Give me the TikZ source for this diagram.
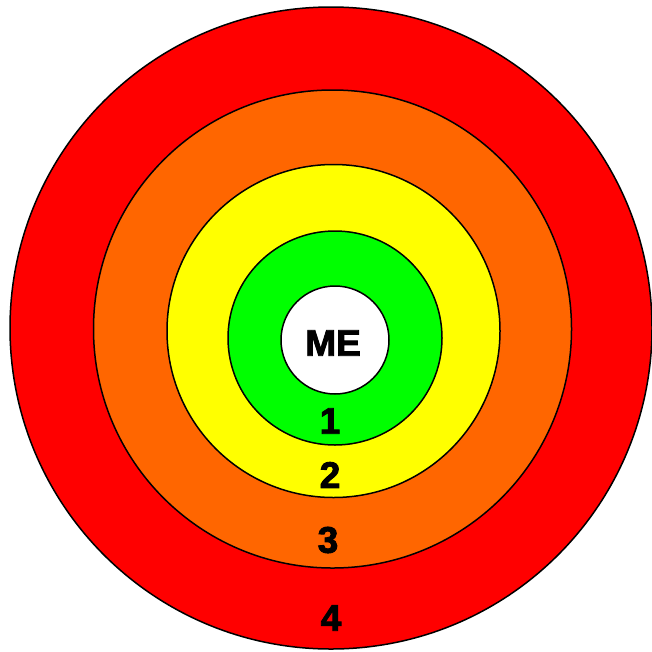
\documentclass[tikz,border=0pt]{standalone}
\usepackage{fontspec}
\setmainfont{Liberation Sans}
\newfontfamily\heavyfont{Liberation Sans Bold}[FakeBold=2.5]
\definecolor{ringred}{HTML}{FF0000}
\definecolor{ringorange}{HTML}{FF6600}
\definecolor{ringyellow}{HTML}{FFFF00}
\definecolor{ringgreen}{HTML}{00FF00}
\begin{document}
\begin{tikzpicture}[x=1pt,y=-1pt,
  ring/.style={draw=black,line width=1.5pt},
  lbl/.style={inner sep=0pt,font=\heavyfont\fontsize{37}{37}\selectfont}]
\useasboundingbox (0,0) rectangle (652,651);
\fill[white] (0,0) rectangle (652,651);
\draw[ring,fill=ringred] (331,328) circle[radius=321];
\draw[ring,fill=ringorange] (332.5,329) circle[radius=239];
\draw[ring,fill=ringyellow] (333.5,331) circle[radius=166.5];
\draw[ring,fill=ringgreen] (335,338) circle[radius=107];
\draw[ring,fill=white] (335,340) circle[radius=54];
\node[lbl] (me) at (333,343) {ME};
\node[lbl] (one) at (330,421) {1};
\node[lbl] (two) at (330,475) {2};
\node[lbl] (three) at (328,540) {3};
\node[lbl] (four) at (331,618) {4};
\end{tikzpicture}
\end{document}
